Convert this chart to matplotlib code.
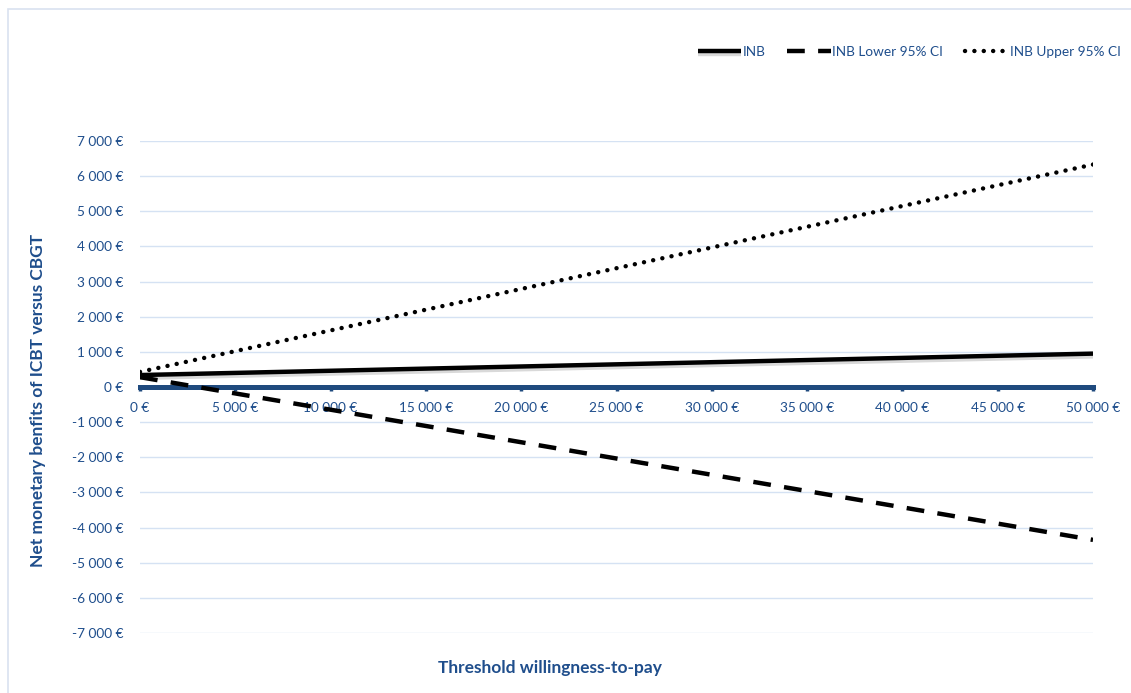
import matplotlib.pyplot as plt
import matplotlib.patheffects as pe
from matplotlib.patches import Rectangle
from matplotlib.ticker import FuncFormatter

# threshold willingness-to-pay (EUR) and incremental net benefit curves
wtp = [0, 50000]
inb = [340, 950]
inb_lower = [280, -4350]
inb_upper = [430, 6330]

y_ticks = list(range(-7000, 7001, 1000))
x_ticks = list(range(0, 50001, 5000))

text_blue = "#1F4E8C"
axis_blue = "#1F4A7E"
grid_blue = "#D5E2F3"

plt.rcParams["font.family"] = ["Lato", "DejaVu Sans"]


def euro(v, pos=None):
    v = int(round(v))
    s = f"{abs(v):,}".replace(",", " ")
    return f"{'-' if v < 0 else ''}{s} €"


fig = plt.figure(figsize=(11.31, 6.93), dpi=100)
ax = fig.add_axes([140 / 1131, 1 - 633 / 693, (1093 - 140) / 1131, (633 - 141) / 693])

# thin frame round the whole chart
fig.patches.append(Rectangle((8 / 1131, -0.1), 1.2, 1 - 9 / 693 + 0.1,
                             transform=fig.transFigure, fill=False,
                             edgecolor="#D9E2F0", linewidth=1.2))

ax.plot(wtp, inb, color="black", lw=3.2, solid_capstyle="butt", label="INB",
        path_effects=[pe.SimpleLineShadow(offset=(0, -2), alpha=0.15), pe.Normal()], zorder=4)
ax.plot(wtp, inb_lower, color="black", lw=3.2, dashes=(4, 3), dash_capstyle="butt",
        label="INB Lower 95% CI", zorder=4)
ax.plot(wtp, inb_upper, color="black", lw=3.2, dashes=(0.01, 2.1), dash_capstyle="round",
        label="INB Upper 95% CI", zorder=4)

ax.set_xlim(0, 50000)
ax.set_ylim(-7000, 7000)
ax.set_xticks(x_ticks)
ax.set_yticks(y_ticks)
ax.xaxis.set_major_formatter(FuncFormatter(euro))
ax.yaxis.set_major_formatter(FuncFormatter(euro))

ax.grid(axis="y", color=grid_blue, lw=1)
ax.set_axisbelow(True)
for s in ["top", "right", "left"]:
    ax.spines[s].set_visible(False)
ax.spines["bottom"].set_position(("data", 0))
ax.spines["bottom"].set_color(axis_blue)
ax.spines["bottom"].set_linewidth(3.6)
ax.spines["bottom"].set_zorder(3)

ax.tick_params(axis="x", colors=axis_blue, length=3, width=2.5, labelcolor=text_blue,
               labelsize=9.8, pad=8)
ax.tick_params(axis="y", length=0, labelcolor=text_blue, labelsize=9.8, pad=12)

fig.text(38 / 1131, 1 - 400 / 693, "Net monetary benfits of ICBT versus CBGT", rotation=90,
         ha="center", va="center", color=text_blue, fontsize=12.5, fontweight="bold")
fig.text(550 / 1131, 1 - 668 / 693, "Threshold willingness-to-pay",
         ha="center", va="center", color=text_blue, fontsize=12.5, fontweight="bold")

leg = fig.legend(loc="center right", bbox_to_anchor=(1133 / 1131, 1 - 52 / 693), ncol=3,
                 frameon=False, fontsize=9.8, handlelength=3.2, handletextpad=0.1,
                 columnspacing=1.6)
for t in leg.get_texts():
    t.set_color(text_blue)

fig.savefig("out.png", dpi=100)
